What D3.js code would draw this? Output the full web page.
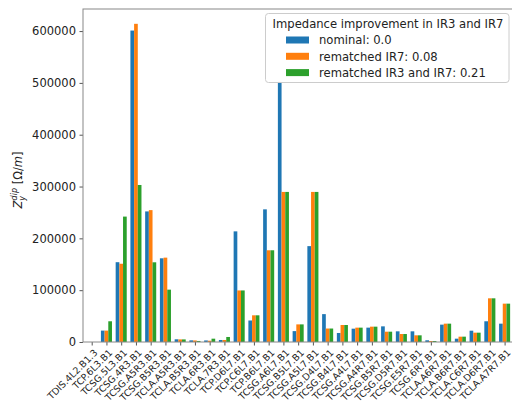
<!DOCTYPE html>
<html><head><meta charset="utf-8">
<script src="https://cdn.jsdelivr.net/npm/d3@7/dist/d3.min.js"></script>
<style>body{margin:0;background:#fff;overflow:hidden}svg{display:block}text{font-family:"DejaVu Sans",sans-serif}</style>
</head><body><div id="c"></div>
<script>
const categories = ["TDIS.4L2.B1.3","TCP.6L3.B1","TCSG.5L3.B1","TCSG.4R3.B1","TCSG.A5R3.B1","TCSG.B5R3.B1","TCLA.A5R3.B1","TCLA.B5R3.B1","TCLA.6R3.B1","TCLA.7R3.B1","TCP.D6L7.B1","TCP.C6L7.B1","TCP.B6L7.B1","TCSG.A6L7.B1","TCSG.B5L7.B1","TCSG.A5L7.B1","TCSG.D4L7.B1","TCSG.B4L7.B1","TCSG.A4L7.B1","TCSG.A4R7.B1","TCSG.B5R7.B1","TCSG.D5R7.B1","TCSG.E5R7.B1","TCSG.6R7.B1","TCLA.A6R7.B1","TCLA.B6R7.B1","TCLA.C6R7.B1","TCLA.D6R7.B1","TCLA.A7R7.B1"];
const nominal = [0,22000,154000,601000,252000,161500,5200,3200,3000,3900,213500,41500,256000,502000,21000,185000,53800,17400,25700,27700,30200,20600,20600,3300,33500,6400,21800,40000,35400];
const rematchedIR7 = [0,22000,151000,614000,254500,162800,5000,3000,2500,3900,99500,51500,177000,289600,34000,289600,26000,32800,27700,29600,19900,15400,12900,1900,35400,10300,18000,84300,74000];
const rematchedIR3IR7 = [0,40000,242000,303000,153800,101000,5000,2000,6400,9700,99500,51500,177000,289600,34000,289600,26000,32800,27700,29600,19900,15400,12900,1900,35400,10300,18000,84300,74000];
const seriesNames = ["nominal: 0.0","rematched IR7: 0.08","rematched IR3 and IR7: 0.21"];
const colors = ["#1f77b4","#ff7f0e","#2ca02c"];
const yTicks = [0,100000,200000,300000,400000,500000,600000];
const legendTitle = "Impedance improvement in IR3 and IR7";

const W=512,H=403;
const svg=d3.select("#c").append("svg").attr("width",W).attr("height",H);
const L=83,R=513.3,T=9,B=342;
const x=d3.scaleLinear().domain([-0.59,28.59]).range([L,R]);
const y=d3.scaleLinear().domain([0,642600]).range([B,T]);
const bw=0.25;
const series=[nominal,rematchedIR7,rematchedIR3IR7];
series.forEach((vals,s)=>{
  svg.append("g").selectAll("rect").data(vals).join("rect")
    .attr("x",(d,i)=>x(i+(s-1)*bw-bw/2))
    .attr("width",x(bw)-x(0))
    .attr("y",d=>y(d))
    .attr("height",d=>B-y(d))
    .attr("fill",colors[s]);
});
// axes
const gy=svg.append("g").attr("transform",`translate(${L},0)`)
  .call(d3.axisLeft(y).tickValues(yTicks).tickFormat(d3.format("d")).tickSizeOuter(0).tickSize(3.5).tickPadding(3.5));
gy.select(".domain").remove();
gy.selectAll("line").attr("stroke","#555");
gy.selectAll("text").attr("font-size",11.5).attr("fill","#222").attr("font-family","DejaVu Sans");
const gx=svg.append("g").attr("transform",`translate(0,${B})`)
  .call(d3.axisBottom(x).tickValues(d3.range(categories.length)).tickFormat(i=>categories[i]).tickSize(3.5).tickSizeOuter(0));
gx.select(".domain").remove();
gx.selectAll("line").attr("stroke","#555");
gx.selectAll("text").attr("font-size",9.4).attr("fill","#222").attr("font-family","DejaVu Sans")
  .attr("text-anchor","end").attr("dy",null).attr("y",null)
  .attr("transform","translate(6,11.3) rotate(-45)");
// spines
svg.append("rect").attr("x",L).attr("y",T).attr("width",R-L).attr("height",B-T)
  .attr("fill","none").attr("stroke","#888").attr("stroke-width",1);
// y label
const yl=svg.append("text").attr("transform","translate(22,180) rotate(-90)")
  .attr("text-anchor","middle").attr("font-size",11.5).attr("fill","#222");
yl.append("tspan").attr("font-style","italic").text("Z");
yl.append("tspan").attr("font-style","italic").attr("font-size",8).attr("dy",3).text("y");
yl.append("tspan").attr("font-style","italic").attr("font-size",8).attr("dx",-4.5).attr("dy",-8).text("dip");
yl.append("tspan").attr("dy",5).text(" [Ω/");
yl.append("tspan").attr("font-style","italic").text("m");
yl.append("tspan").text("]");
// legend
const lg=svg.append("g");
lg.append("rect").attr("x",265.5).attr("y",13.5).attr("width",243.5).attr("height",69).attr("rx",3)
  .attr("fill","#fff").attr("fill-opacity",0.8).attr("stroke","#ccc");
lg.append("text").attr("x",388).attr("y",27.5).attr("text-anchor","middle").attr("font-size",11.6).attr("fill","#222").text(legendTitle);
seriesNames.forEach((n,s)=>{
  const cy=40+s*16.3;
  lg.append("rect").attr("x",286).attr("y",cy-3.5).attr("width",23).attr("height",7).attr("fill",colors[s]);
  lg.append("text").attr("x",319).attr("y",cy+4.2).attr("font-size",11.6).attr("fill","#222").text(n);
});
</script></body></html>
